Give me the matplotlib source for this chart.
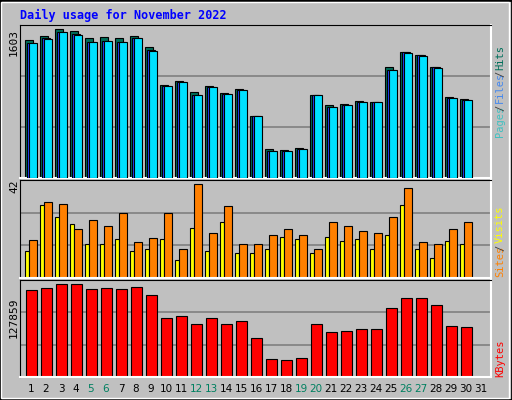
import matplotlib
matplotlib.use("Agg")
import matplotlib.pyplot as plt
import numpy as np

days = list(range(1, 32))
hits = [1488,1528,1603,1581,1506,1517,1506,1528,1408,1003,1046,926,992,915,959,664,314,303,325,893,784,795,828,817,1199,1363,1330,1199,871,850]
files = [1455,1499,1570,1547,1466,1477,1466,1510,1374,992,1036,897,981,904,948,664,292,292,314,893,762,784,817,817,1166,1352,1319,1188,860,838]
pages = [1460,1505,1575,1552,1471,1482,1471,1513,1380,995,1040,900,985,908,952,664,295,295,318,893,766,788,820,818,1170,1355,1322,1192,863,842]
visits = [17,34,33,22,26,23,29,16,18,29,13,42,20,32,15,15,19,22,19,13,25,23,21,20,27,40,16,15,22,25]
sites = [12.2,32.4,27.3,24.1,15,15,17.3,12.2,13.1,17.3,8.1,22.3,12.2,25,11.3,11.3,13.1,18.2,17.3,11.3,18.2,16.3,17.3,13.1,19.1,32.4,13.1,9,16.3,15]
kbytes = [119435,122234,127859,127859,120835,122234,120835,123634,112436,80252,83052,73253,80252,73253,77452,53657,24263,22863,25662,73253,62055,63455,66254,66254,94248,108245,108245,98447,70454,69054]
weekend = [5, 6, 12, 13, 19, 20, 26, 27]

W, H = 512, 400
fig = plt.figure(figsize=(W/100, H/100), dpi=100)
fig.patch.set_facecolor('#c0c0c0')
fig.add_artist(plt.Rectangle((0, 0), 1, 1, transform=fig.transFigure, fill=False, ec='black', lw=2))
fig.add_artist(plt.Rectangle((1/W, 2/H), 1-4/W, 1-4/H, transform=fig.transFigure, fill=False, ec='white', lw=1))

def ax_at(top, bottom):
    return fig.add_axes([20/W, 1-bottom/H, 471/W, (bottom-top)/H])

x = np.array(days[:30])
xl = (1-11/15, 1-11/15+471/15)
mono = 'DejaVu Sans Mono'

def style(ax, ymax):
    ax.set_facecolor('#c0c0c0')
    ax.set_xlim(*xl)
    ax.set_ylim(0, ymax)
    ax.set_xticks([]); ax.set_yticks([])
    for s in ['top', 'left']:
        ax.spines[s].set_color('black')
    for s in ['right', 'bottom']:
        ax.spines[s].set_color('white')
        ax.spines[s].set_linewidth(1.5)
    for f in (1/3, 2/3):
        ax.axhline(ymax*f, color='#808080', lw=1.2, zorder=0)

px = 1/15
ax1 = ax_at(25, 178)
ymax1 = 1650
style(ax1, ymax1)
ax1.bar(x - 6*px, hits, width=8*px, align='edge', color='#006f5a', ec='black', lw=0.8, zorder=2)
ax1.bar(x - 4*px, pages, width=8*px, align='edge', color='#2244ff', ec='black', lw=0.8, zorder=3)
ax1.bar(x - 2*px, files, width=7.7*px, align='edge', color='#00e0ff', ec='black', lw=0.8, zorder=4)
fig.text(9/W, 1-43/H, '1603', rotation=90, fontsize=8, ha='left', va='center', family=mono)

ax2 = ax_at(180, 278)
ymax2 = 43.7
style(ax2, ymax2)
ax2.bar(x - 6*px, sites, width=4.3*px, align='edge', color='#ffff00', ec='black', lw=0.8, zorder=2)
ax2.bar(x - 1.7*px, visits, width=7.3*px, align='edge', color='#ff8000', ec='black', lw=0.8, zorder=2)
fig.text(9/W, 1-186/H, '42', rotation=90, fontsize=8, ha='left', va='center', family=mono)

ax3 = ax_at(280, 377)
ymax3 = 133000
style(ax3, ymax3)
ax3.bar(x - 4.7*px, kbytes, width=10.3*px, align='edge', color='#ff0000', ec='black', lw=0.8, zorder=2)
fig.text(9/W, 1-318/H, '127859', rotation=90, fontsize=8, ha='left', va='center', family=mono)

for d in days:
    xf = (20 + (d - xl[0]) * 15) / W
    fig.text(xf, 1-389/H, str(d), ha='center', va='center', fontsize=7.5,
             color='#008060' if d in weekend else 'black', family='DejaVu Sans')

fig.text(20/W, 1-15/H, 'Daily usage for November 2022', fontsize=8.5, color='#0000ff',
         fontweight='bold', family=mono, va='center')

def vlabel(parts, y_bottom):
    y = y_bottom
    for txt, col in parts:
        fig.text(500/W, 1-y/H, txt, rotation=90, fontsize=7.5, color=col, family=mono,
                 ha='center', va='bottom')
        y -= len(txt) * 4.6 + 3

vlabel([('Pages', '#40c0c0'), ('/', '#404040'), ('Files', '#4488ee'), ('/', '#404040'), ('Hits', '#006f5a')], 137)
vlabel([('Sites', '#ff8000'), ('/', '#404040'), ('Visits', '#ffff00')], 277)
vlabel([('KBytes', '#ff0000')], 377)

fig.savefig('out.png', dpi=100, facecolor=fig.get_facecolor())
